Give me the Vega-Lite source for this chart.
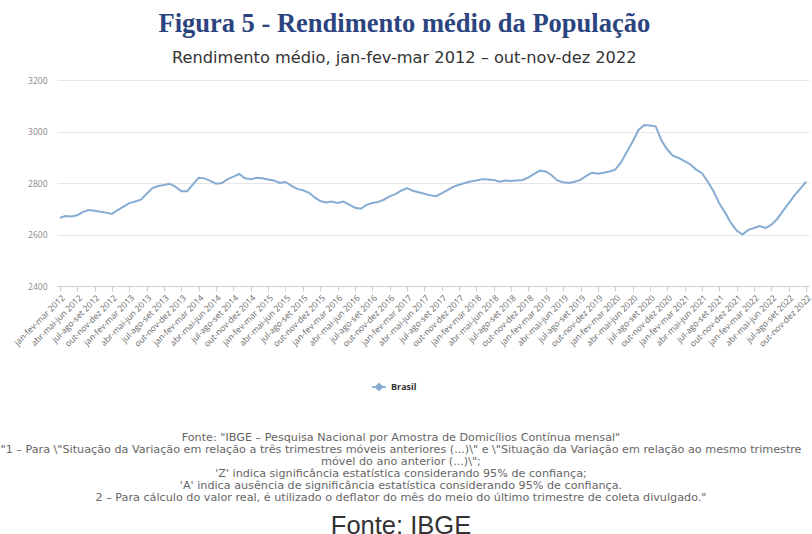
{
 "$schema": "https://vega.github.io/schema/vega-lite/v6.json",
 "background": "white",
 "padding": {"left": 0, "top": 11, "right": 0, "bottom": 4},
 "title": {
  "text": "Figura 5 - Rendimento médio da População",
  "subtitle": "Rendimento médio, jan-fev-mar 2012 – out-nov-dez 2022",
  "font": "Liberation Serif", "fontSize": 26.5, "fontWeight": "bold", "color": "#2b4480",
  "subtitleFont": "DejaVu Sans", "subtitleFontSize": 16.2, "subtitleColor": "#333333", "subtitlePadding": 12,
  "anchor": "middle", "offset": 10, "dx": -2
 },
 "config": {"view": {"stroke": null}, "concat": {"spacing": 0}},
 "vconcat": [
  {
   "width": 752, "height": 206,
   "title": {
    "text": [
     "Fonte: \"IBGE – Pesquisa Nacional por Amostra de Domicílios Contínua mensal\"",
     "\"1 – Para \\\"Situação da Variação em relação a três trimestres móveis anteriores (...)\\\" e \\\"Situação da Variação em relação ao mesmo trimestre",
     "móvel do ano anterior (...)\\\";",
     "'Z' indica significância estatística considerando 95% de confiança;",
     "'A' indica ausência de significância estatística considerando 95% de confiança.",
     "2 – Para cálculo do valor real, é utilizado o deflator do mês do meio do último trimestre de coleta divulgado.\""
    ],
    "orient": "bottom", "anchor": "middle", "dx": -32,
    "font": "DejaVu Sans", "fontSize": 11.2, "fontWeight": "normal", "color": "#666666", "lineHeight": 12,
    "subtitle": "Fonte: IBGE", "subtitleFont": "Liberation Sans", "subtitleFontSize": 25.5, "subtitleColor": "#333333", "subtitlePadding": 11,
    "offset": 84
   },
   "data": {"values": [
    {"t": "jan-fev-mar 2012", "v": 2665}, {"t": "fev-mar-abr 2012", "v": 2672}, {"t": "mar-abr-mai 2012", "v": 2670}, {"t": "abr-mai-jun 2012", "v": 2675}, {"t": "mai-jun-jul 2012", "v": 2688}, {"t": "jun-jul-ago 2012", "v": 2695}, {"t": "jul-ago-set 2012", "v": 2692}, {"t": "ago-set-out 2012", "v": 2688}, {"t": "set-out-nov 2012", "v": 2685}, {"t": "out-nov-dez 2012", "v": 2680}, {"t": "nov-dez-jan 2013", "v": 2695}, {"t": "dez-jan-fev 2013", "v": 2708},
    {"t": "jan-fev-mar 2013", "v": 2722}, {"t": "fev-mar-abr 2013", "v": 2728}, {"t": "mar-abr-mai 2013", "v": 2735}, {"t": "abr-mai-jun 2013", "v": 2758}, {"t": "mai-jun-jul 2013", "v": 2780}, {"t": "jun-jul-ago 2013", "v": 2788}, {"t": "jul-ago-set 2013", "v": 2792}, {"t": "ago-set-out 2013", "v": 2797}, {"t": "set-out-nov 2013", "v": 2785}, {"t": "out-nov-dez 2013", "v": 2768}, {"t": "nov-dez-jan 2014", "v": 2768}, {"t": "dez-jan-fev 2014", "v": 2795},
    {"t": "jan-fev-mar 2014", "v": 2820}, {"t": "fev-mar-abr 2014", "v": 2818}, {"t": "mar-abr-mai 2014", "v": 2808}, {"t": "abr-mai-jun 2014", "v": 2797}, {"t": "mai-jun-jul 2014", "v": 2800}, {"t": "jun-jul-ago 2014", "v": 2815}, {"t": "jul-ago-set 2014", "v": 2825}, {"t": "ago-set-out 2014", "v": 2835}, {"t": "set-out-nov 2014", "v": 2818}, {"t": "out-nov-dez 2014", "v": 2815}, {"t": "nov-dez-jan 2015", "v": 2820}, {"t": "dez-jan-fev 2015", "v": 2818},
    {"t": "jan-fev-mar 2015", "v": 2814}, {"t": "fev-mar-abr 2015", "v": 2810}, {"t": "mar-abr-mai 2015", "v": 2800}, {"t": "abr-mai-jun 2015", "v": 2804}, {"t": "mai-jun-jul 2015", "v": 2790}, {"t": "jun-jul-ago 2015", "v": 2777}, {"t": "jul-ago-set 2015", "v": 2772}, {"t": "ago-set-out 2015", "v": 2763}, {"t": "set-out-nov 2015", "v": 2745}, {"t": "out-nov-dez 2015", "v": 2730}, {"t": "nov-dez-jan 2016", "v": 2724}, {"t": "dez-jan-fev 2016", "v": 2728},
    {"t": "jan-fev-mar 2016", "v": 2722}, {"t": "fev-mar-abr 2016", "v": 2728}, {"t": "mar-abr-mai 2016", "v": 2716}, {"t": "abr-mai-jun 2016", "v": 2704}, {"t": "mai-jun-jul 2016", "v": 2700}, {"t": "jun-jul-ago 2016", "v": 2715}, {"t": "jul-ago-set 2016", "v": 2722}, {"t": "ago-set-out 2016", "v": 2726}, {"t": "set-out-nov 2016", "v": 2735}, {"t": "out-nov-dez 2016", "v": 2748}, {"t": "nov-dez-jan 2017", "v": 2757}, {"t": "dez-jan-fev 2017", "v": 2770},
    {"t": "jan-fev-mar 2017", "v": 2780}, {"t": "fev-mar-abr 2017", "v": 2770}, {"t": "mar-abr-mai 2017", "v": 2764}, {"t": "abr-mai-jun 2017", "v": 2758}, {"t": "mai-jun-jul 2017", "v": 2752}, {"t": "jun-jul-ago 2017", "v": 2749}, {"t": "jul-ago-set 2017", "v": 2760}, {"t": "ago-set-out 2017", "v": 2772}, {"t": "set-out-nov 2017", "v": 2785}, {"t": "out-nov-dez 2017", "v": 2793}, {"t": "nov-dez-jan 2018", "v": 2800}, {"t": "dez-jan-fev 2018", "v": 2806},
    {"t": "jan-fev-mar 2018", "v": 2810}, {"t": "fev-mar-abr 2018", "v": 2815}, {"t": "mar-abr-mai 2018", "v": 2814}, {"t": "abr-mai-jun 2018", "v": 2812}, {"t": "mai-jun-jul 2018", "v": 2805}, {"t": "jun-jul-ago 2018", "v": 2810}, {"t": "jul-ago-set 2018", "v": 2808}, {"t": "ago-set-out 2018", "v": 2810}, {"t": "set-out-nov 2018", "v": 2812}, {"t": "out-nov-dez 2018", "v": 2822}, {"t": "nov-dez-jan 2019", "v": 2835}, {"t": "dez-jan-fev 2019", "v": 2848},
    {"t": "jan-fev-mar 2019", "v": 2845}, {"t": "fev-mar-abr 2019", "v": 2830}, {"t": "mar-abr-mai 2019", "v": 2810}, {"t": "abr-mai-jun 2019", "v": 2803}, {"t": "mai-jun-jul 2019", "v": 2800}, {"t": "jun-jul-ago 2019", "v": 2805}, {"t": "jul-ago-set 2019", "v": 2812}, {"t": "ago-set-out 2019", "v": 2828}, {"t": "set-out-nov 2019", "v": 2840}, {"t": "out-nov-dez 2019", "v": 2836}, {"t": "nov-dez-jan 2020", "v": 2840}, {"t": "dez-jan-fev 2020", "v": 2845},
    {"t": "jan-fev-mar 2020", "v": 2852}, {"t": "fev-mar-abr 2020", "v": 2880}, {"t": "mar-abr-mai 2020", "v": 2920}, {"t": "abr-mai-jun 2020", "v": 2960}, {"t": "mai-jun-jul 2020", "v": 3005}, {"t": "jun-jul-ago 2020", "v": 3025}, {"t": "jul-ago-set 2020", "v": 3023}, {"t": "ago-set-out 2020", "v": 3020}, {"t": "set-out-nov 2020", "v": 2965}, {"t": "out-nov-dez 2020", "v": 2930}, {"t": "nov-dez-jan 2021", "v": 2905}, {"t": "dez-jan-fev 2021", "v": 2897},
    {"t": "jan-fev-mar 2021", "v": 2885}, {"t": "fev-mar-abr 2021", "v": 2872}, {"t": "mar-abr-mai 2021", "v": 2852}, {"t": "abr-mai-jun 2021", "v": 2838}, {"t": "mai-jun-jul 2021", "v": 2805}, {"t": "jun-jul-ago 2021", "v": 2768}, {"t": "jul-ago-set 2021", "v": 2720}, {"t": "ago-set-out 2021", "v": 2685}, {"t": "set-out-nov 2021", "v": 2645}, {"t": "out-nov-dez 2021", "v": 2615}, {"t": "nov-dez-jan 2022", "v": 2600}, {"t": "dez-jan-fev 2022", "v": 2618},
    {"t": "jan-fev-mar 2022", "v": 2625}, {"t": "fev-mar-abr 2022", "v": 2633}, {"t": "mar-abr-mai 2022", "v": 2625}, {"t": "abr-mai-jun 2022", "v": 2638}, {"t": "mai-jun-jul 2022", "v": 2660}, {"t": "jun-jul-ago 2022", "v": 2692}, {"t": "jul-ago-set 2022", "v": 2722}, {"t": "ago-set-out 2022", "v": 2752}, {"t": "set-out-nov 2022", "v": 2778}, {"t": "out-nov-dez 2022", "v": 2805}
   ]},
   "transform": [{"calculate": "'Brasil'", "as": "s"}],
   "mark": {"type": "line", "strokeWidth": 2},
   "encoding": {
    "x": {"field": "t", "type": "ordinal", "sort": null,
      "scale": {"type": "point", "padding": 0.5},
      "axis": {
       "values": ["jan-fev-mar 2012","abr-mai-jun 2012","jul-ago-set 2012","out-nov-dez 2012","jan-fev-mar 2013","abr-mai-jun 2013","jul-ago-set 2013","out-nov-dez 2013","jan-fev-mar 2014","abr-mai-jun 2014","jul-ago-set 2014","out-nov-dez 2014","jan-fev-mar 2015","abr-mai-jun 2015","jul-ago-set 2015","out-nov-dez 2015","jan-fev-mar 2016","abr-mai-jun 2016","jul-ago-set 2016","out-nov-dez 2016","jan-fev-mar 2017","abr-mai-jun 2017","jul-ago-set 2017","out-nov-dez 2017","jan-fev-mar 2018","abr-mai-jun 2018","jul-ago-set 2018","out-nov-dez 2018","jan-fev-mar 2019","abr-mai-jun 2019","jul-ago-set 2019","out-nov-dez 2019","jan-fev-mar 2020","abr-mai-jun 2020","jul-ago-set 2020","out-nov-dez 2020","jan-fev-mar 2021","abr-mai-jun 2021","jul-ago-set 2021","out-nov-dez 2021","jan-fev-mar 2022","abr-mai-jun 2022","jul-ago-set 2022","out-nov-dez 2022"],
       "title": null, "labelAngle": -45, "labelFontSize": 8.5, "labelFont": "Open Sans", "labelColor": "#666666",
       "labelOverlap": false, "labelPadding": 2,
       "ticks": true, "tickColor": "#cccccc", "tickSize": 5, "domainColor": "#cccccc", "grid": false
      }},
    "y": {"field": "v", "type": "quantitative",
      "scale": {"domain": [2400, 3200], "nice": false, "zero": false},
      "axis": {"values": [2400, 2600, 2800, 3000, 3200], "format": "d", "title": null, "domain": false, "ticks": false,
        "labelFontSize": 8.5, "labelFont": "Open Sans", "labelColor": "#888888", "labelPadding": 10,
        "gridColor": "#e6e6e6"}},
    "color": {"field": "s", "type": "nominal",
      "scale": {"range": ["#86acd2"]},
      "legend": {"orient": "none", "legendX": 314, "legendY": 299, "title": null, "labelFontWeight": "bold", "labelFontSize": 9,
        "labelFont": "Open Sans", "labelColor": "#333333",
        "symbolType": "M-1,0L1,0M0,-0.45L0.45,0L0,0.45L-0.45,0Z", "symbolSize": 180,
        "symbolStrokeWidth": 2, "symbolFillColor": "#6f9fd0", "symbolStrokeColor": "#6f9fd0"}}
   }
  }
 ]
}
